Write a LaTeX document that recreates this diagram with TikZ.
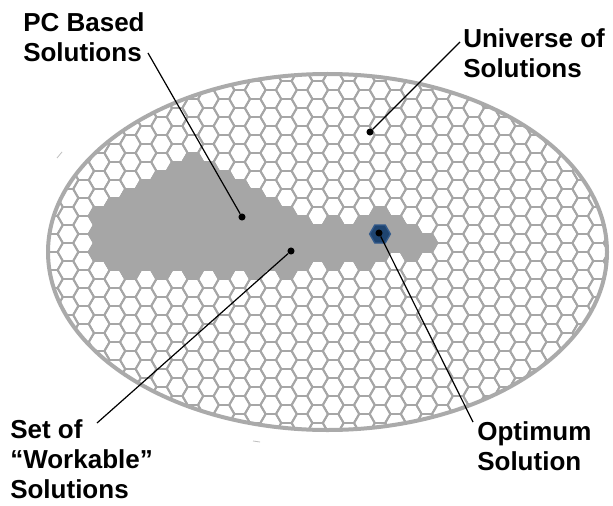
\documentclass[tikz,border=0pt]{standalone}
\usepackage{fontspec}
\setmainfont{Liberation Sans}
\definecolor{hexgray}{RGB}{166,166,166}
\definecolor{rimgray}{RGB}{170,170,170}
\definecolor{optblue}{RGB}{30,68,112}
\definecolor{optedge}{RGB}{50,90,140}
\tikzset{
  hexcell/.pic={\path[pic actions] (10.4,0) -- (5.2,9) -- (-5.2,9) -- (-10.4,0) -- (-5.2,-9) -- (5.2,-9) -- cycle;},
  gridline/.style={draw=hexgray,line width=1.45pt},
  workcell/.style={fill=hexgray,draw=hexgray,line width=1.45pt},
  optcell/.style={fill=optblue,draw=optedge,line width=1pt},
  lab/.style={font=\fontsize{19.5pt}{22.5pt}\selectfont\bfseries,align=left,inner sep=0pt,anchor=north west},
  dotn/.style={circle,fill=black,inner sep=0pt,minimum size=5.3pt},
  conn/.style={draw=black,line width=0.9pt},
  faint/.style={draw=black!25,line width=0.6pt}
}
\begin{document}
\begin{tikzpicture}[x=0.75pt,y=-0.75pt]
\useasboundingbox[fill=white] (0,0) rectangle (613,506);
% universe of solutions
\begin{scope}
  \clip (327.5,252) ellipse [x radius=279.5, y radius=178];
  \foreach \i in {-22,...,15}{
    \pgfmathsetmacro\cx{380+15.6*\i}
    \pgfmathsetmacro\off{mod(abs(\i),2)*9}
    \foreach \j in {-10,...,11}{
      \pgfmathsetmacro\cy{234+18*\j+\off}
      \pic[gridline] at (\cx,\cy) {hexcell};
    }
  }
  % set of workable solutions
  \foreach \i/\a/\b in {-18/-1/1,-17/-2/1,-16/-2/2,-15/-3/1,-14/-3/2,-13/-4/1,-12/-4/2,-11/-4/1,-10/-3/2,-9/-3/1,-8/-2/2,-7/-2/1,-6/-1/2,-5/-1/1,-4/0/1,-3/-1/1,-2/0/1,-1/-1/1,0/-1/1,1/-1/0,2/0/1,3/0/0}{
    \pgfmathsetmacro\cx{380+15.6*\i}
    \pgfmathsetmacro\off{mod(abs(\i),2)*9}
    \foreach \j in {\a,...,\b}{
      \pgfmathsetmacro\cy{234+18*\j+\off}
      \pic[workcell] at (\cx,\cy) {hexcell};
    }
  }
  \pic[optcell] at (380,234) {hexcell};
\end{scope}
\draw[rimgray,line width=3pt] (327.5,252) ellipse [x radius=279.5, y radius=178];
% faint marks
\draw[faint] (57,158) -- (62,152);
\draw[faint] (253,441) -- (260,442);
% labels
\node[lab] (pc) at (23,12) {PC Based\\Solutions};
\node[lab] (uni) at (463,28) {Universe of\\Solutions};
\node[lab] (set) at (10,419) {Set of\\``Workable''\\Solutions};
\node[lab] (opt) at (477,421) {Optimum\\Solution};
% dots
\node[dotn] (dpc) at (242,217) {};
\node[dotn] (duni) at (370,132) {};
\node[dotn] (dset) at (291,251) {};
\node[dotn] (dopt) at (379,233) {};
% connector ends
\coordinate (cpc) at (148,53);
\coordinate (cuni) at (460,42);
\coordinate (cset) at (97,423);
\coordinate (copt) at (473,422);
\draw[conn] (cpc) -- (dpc);
\draw[conn] (cuni) -- (duni);
\draw[conn] (cset) -- (dset);
\draw[conn] (dopt) -- (copt);
\end{tikzpicture}
\end{document}
